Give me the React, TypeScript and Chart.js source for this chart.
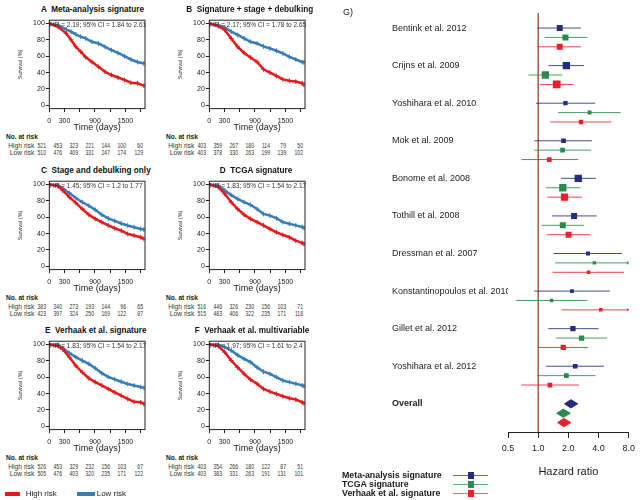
import React, { useEffect, useRef } from "react";
import { Chart, registerables } from "chart.js";
Chart.register(...registerables);

const FONT = "'Liberation Sans', Arial, Helvetica, sans-serif";
const KM_RED = "#e41a1c";
const KM_BLUE = "#377eb8";
const NAVY = "#242b82";
const GREEN = "#2b8b4e";
const FRED = "#e8222b";
const REFLINE = "#a8574f";

// ---------------- Kaplan-Meier data ----------------
const kmXTicks = [0, 300, 600, 900, 1200, 1500, 1800];
const kmXTickLabels = ["0", "300", "", "900", "", "1500", ""];
const kmYTicks = [0, 20, 40, 60, 80, 100];

const timesA = [0, 172, 332, 428, 523, 619, 715, 842, 970, 1098, 1225, 1353, 1481, 1608, 1736, 1863];
const highA = [100, 96, 88, 80, 71.5, 65.5, 59, 53, 47, 41, 37, 34, 31, 27.6, 27, 24];
const lowA = [100, 98, 92.7, 90, 86.6, 84, 81.7, 77.6, 75.6, 71.5, 67.5, 64, 60, 56, 53, 51];

const timesB = [0, 178, 305, 432, 559, 687, 814, 941, 1068, 1195, 1322, 1449, 1577, 1704, 1831, 1863];
const highB = [100, 96.7, 92, 81.7, 71.5, 64, 58.5, 53, 44, 40, 36, 31.7, 30, 29, 27, 25];
const lowB = [100, 98, 95, 90, 86, 81.7, 77.6, 75.6, 72, 69.5, 66.7, 63.4, 59.3, 56, 53, 52.4];

const timesC = [0, 172, 268, 396, 523, 651, 779, 906, 1034, 1161, 1289, 1417, 1544, 1672, 1800, 1863];
const highC = [100, 98, 92.6, 84.5, 77.6, 70, 63, 58, 54, 50, 46.5, 43.7, 39.6, 37.6, 35.5, 33.5];
const lowC = [100, 99, 95, 89.5, 83.5, 78.3, 74, 69, 63, 58.5, 55.5, 52.3, 49.8, 47.8, 45.7, 45];

const timesD = [0, 178, 305, 432, 559, 687, 814, 941, 1068, 1195, 1322, 1449, 1577, 1704, 1831, 1863];
const highD = [100, 96.7, 88.6, 78.4, 70, 63, 58, 54, 50, 45.7, 41.6, 38.4, 35.5, 31.4, 28.6, 27.3];
const lowD = [100, 98.8, 92.6, 87, 82.4, 78.4, 75, 70, 64, 62, 58.8, 54, 52, 50, 48, 47];

const timesE = [0, 172, 268, 396, 523, 651, 779, 906, 1034, 1161, 1289, 1417, 1544, 1672, 1800, 1863];
const highE = [100, 98, 94, 84.5, 74, 66, 58.8, 54, 50, 45.7, 41.6, 37.6, 33.5, 30, 29.4, 27.3];
const lowE = [100, 99.6, 95.5, 89.5, 84.5, 80.4, 76.3, 71, 65, 60.4, 57.4, 54.5, 51.8, 49.8, 48, 47];

const timesF = [0, 178, 305, 432, 559, 687, 814, 941, 1068, 1195, 1322, 1449, 1577, 1704, 1831, 1863];
const highF = [100, 98, 90.6, 80.4, 72, 64, 57, 52, 45.7, 42.4, 39.6, 36.7, 34.3, 32.7, 29.4, 28];
const lowF = [100, 99.6, 96.7, 92.6, 87, 82.4, 78.4, 72, 66.7, 64, 60, 56, 54, 52, 50, 49];

const riskHighA = [521, 453, 323, 221, 144, 100, 60];
const riskLowA = [510, 476, 409, 331, 247, 174, 129];
const riskHighB = [403, 359, 267, 180, 114, 79, 50];
const riskLowB = [403, 378, 330, 263, 199, 139, 102];
const riskHighC = [383, 340, 273, 193, 144, 96, 65];
const riskLowC = [423, 397, 324, 250, 169, 122, 87];
const riskHighD = [516, 446, 326, 230, 156, 103, 71];
const riskLowD = [515, 483, 406, 322, 235, 171, 118];
const riskHighE = [526, 453, 329, 232, 156, 103, 67];
const riskLowE = [505, 476, 403, 320, 235, 171, 122];
const riskHighF = [403, 354, 266, 180, 122, 87, 51];
const riskLowF = [403, 383, 331, 263, 191, 131, 101];

const panelTitles = [
  "A  Meta-analysis signature",
  "B  Signature + stage + debulking",
  "C  Stage and debulking only",
  "D  TCGA signature",
  "E  Verhaak et al. signature",
  "F  Verhaak et al. multivariable",
];
const panelHR = [
  "HR = 2.19; 95% CI = 1.84 to 2.61",
  "HR = 2.17; 95% CI = 1.78 to 2.65",
  "HR = 1.45; 95% CI = 1.2 to 1.77",
  "HR = 1.83; 95% CI = 1.54 to 2.17",
  "HR = 1.83; 95% CI = 1.54 to 2.17",
  "HR = 1.97; 95% CI = 1.61 to 2.4",
];

const panels = [
  { times: timesA, high: highA, low: lowA, rh: riskHighA, rl: riskLowA },
  { times: timesB, high: highB, low: lowB, rh: riskHighB, rl: riskLowB },
  { times: timesC, high: highC, low: lowC, rh: riskHighC, rl: riskLowC },
  { times: timesD, high: highD, low: lowD, rh: riskHighD, rl: riskLowD },
  { times: timesE, high: highE, low: lowE, rh: riskHighE, rl: riskLowE },
  { times: timesF, high: highF, low: lowF, rh: riskHighF, rl: riskLowF },
];

// ---------------- Forest plot data ----------------
const studies = [
  "Bentink et al. 2012",
  "Crijns et al. 2009",
  "Yoshihara et al. 2010",
  "Mok et al. 2009",
  "Bonome et al. 2008",
  "Tothill et al. 2008",
  "Dressman et al. 2007",
  "Konstantinopoulos et al. 2010",
  "Gillet et al. 2012",
  "Yoshihara et al. 2012",
];
const metaHR = [1.64, 1.91, 1.87, 1.79, 2.51, 2.28, 3.14, 2.17, 2.22, 2.34];
const metaLo = [0.99, 1.27, 0.95, 0.915, 1.69, 1.37, 1.42, 0.915, 1.26, 1.2];
const metaHi = [2.67, 2.87, 3.69, 3.43, 3.77, 3.83, 6.85, 5.18, 4.0, 4.54];
const tcgaHR = [1.87, 1.18, 3.25, 1.75, 1.76, 1.76, 3.63, 1.36, 2.71, 1.91];
const tcgaLo = [1.16, 0.8, 1.58, 0.915, 1.2, 1.08, 1.47, 0.6, 1.5, 0.98];
const tcgaHi = [3.09, 1.74, 6.65, 3.38, 2.63, 2.87, 9.5, 3.09, 4.88, 3.72];
const verhHR = [1.64, 1.53, 2.67, 1.29, 1.83, 2.01, 3.18, 4.21, 1.78, 1.31];
const verhLo = [0.99, 1.04, 1.32, 0.68, 1.23, 1.22, 1.39, 1.71, 1.0, 0.68];
const verhHi = [2.67, 2.25, 5.37, 2.51, 2.73, 3.33, 7.2, 10.5, 3.14, 2.55];
// study weights (drawn as square side)
const metaW = [6, 7.3, 4.3, 4.7, 7.3, 6, 4, 3.7, 5.3, 4.7];
const tcgaW = [6, 7.3, 4, 4.7, 7.3, 6, 3.4, 3.5, 5.3, 4.7];
const verhW = [6, 7.8, 4.3, 4.7, 7.3, 6, 3.6, 3.5, 5.3, 4.7];
// overall: [estimate, lower, upper]
const metaOverall = [2.12, 1.83, 2.48];
const tcgaOverall = [1.78, 1.53, 2.09];
const verhOverall = [1.8, 1.56, 2.12];
const hrTicks = [0.5, 1, 2, 4, 8];
const hrTickLabels = ["0.5", "1.0", "2.0", "4.0", "8.0"];

// ---------------- layout ----------------
const colPlotLeft = [49.3, 209.3];
const rowPlotTop = [20, 181, 341];
const PLOT_W = 98.4;
const Y_AXIS_W = 39.3;
const titleCenterX = [92.5, 249.7, 95.9, 256, 95.8, 252];
const riskRight = [-3.3, 12.7, 28.7, 44.2, 60.7, 76.7, 93.7];

const boxPlugin = {
  id: "box",
  afterDatasetsDraw(chart: any) {
    const { ctx, chartArea: a } = chart;
    ctx.save();
    ctx.strokeStyle = "#222";
    ctx.lineWidth = 1;
    ctx.strokeRect(a.left, a.top, a.right - a.left, a.bottom - a.top);
    ctx.restore();
  },
};

function Txt(props: { x: number; y: number; text: string; size: number; bold?: boolean; align?: string; color?: string; sx?: number }) {
  const { x, y, text, size, bold, align, color, sx } = props;
  let tf = align === "center" ? "translateX(-50%)" : align === "right" ? "translateX(-100%)" : "";
  if (sx) tf += ` scaleX(${sx})`;
  return (
    <div
      style={{
        position: "absolute",
        left: x,
        top: y - size * 0.6,
        fontSize: size,
        lineHeight: `${size * 1.2}px`,
        fontWeight: bold ? "bold" : "normal",
        whiteSpace: "pre",
        fontFamily: FONT,
        color: color || "#1a1a1a",
        transform: tf || undefined,
        transformOrigin: align === "right" ? "right center" : align === "center" ? "center center" : "left center",
      }}
    >
      {text}
    </div>
  );
}

function KMChart({ idx }: { idx: number }) {
  const ref = useRef<HTMLCanvasElement>(null);
  const p = panels[idx];
  const left = colPlotLeft[idx % 2];
  const top = rowPlotTop[Math.floor(idx / 2)];
  useEffect(() => {
    const mk = (vals: number[], color: string, label: string, order: number) => ({
      label,
      data: p.times.map((t, i) => ({ x: t, y: vals[i] })),
      showLine: true,
      borderColor: color,
      backgroundColor: color,
      borderWidth: 2.5,
      pointStyle: "cross",
      pointRadius: 2.4,
      pointBorderWidth: 1,
      pointBorderColor: color,
      tension: 0,
      order,
    });
    const chart = new Chart(ref.current!, {
      type: "scatter",
      data: { datasets: [mk(p.high, KM_RED, "High risk", 0), mk(p.low, KM_BLUE, "Low risk", 1)] as any },
      options: {
        animation: false,
        responsive: false,
        events: [],
        layout: { padding: { top: 5, right: 140 - Y_AXIS_W - PLOT_W, left: 0, bottom: 0 } },
        plugins: { legend: { display: false }, tooltip: { enabled: false } },
        scales: {
          x: {
            type: "linear",
            min: 0,
            max: 1885,
            afterBuildTicks: (s: any) => {
              s.ticks = kmXTicks.map((v) => ({ value: v }));
            },
            afterFit: (s: any) => {
              s.height = 113 - 88.6;
            },
            ticks: {
              autoSkip: false,
              maxRotation: 0,
              padding: 4.7,
              color: "#222",
              font: { size: 7, family: FONT },
              callback: (_v: any, i: number) => kmXTickLabels[i],
            },
            grid: { drawOnChartArea: false, tickLength: 3.5, color: "#222" },
            border: { display: false },
            title: { display: true, text: "Time (days)", color: "#1a1a1a", font: { size: 9, family: FONT }, padding: { top: 0, bottom: 0 } },
          },
          y: {
            type: "linear",
            min: -4,
            max: 104,
            afterBuildTicks: (s: any) => {
              s.ticks = kmYTicks.map((v) => ({ value: v }));
            },
            afterFit: (s: any) => {
              s.width = Y_AXIS_W;
            },
            ticks: { autoSkip: false, padding: 1, color: "#222", font: { size: 7, family: FONT } },
            grid: { drawOnChartArea: false, tickLength: 3.5, color: "#222" },
            border: { display: false },
            title: { display: true, text: "Survival (%)", color: "#333", font: { size: 5.5, family: FONT }, padding: { top: 6.7, bottom: 0 } },
          },
        },
      } as any,
      plugins: [boxPlugin],
    });
    return () => chart.destroy();
  }, []);
  return (
    <canvas
      ref={ref}
      width={140}
      height={118}
      style={{ position: "absolute", left: left - Y_AXIS_W, top: top - 5, width: 140, height: 118 }}
    />
  );
}

function KMText({ idx }: { idx: number }) {
  const p = panels[idx];
  const left = colPlotLeft[idx % 2];
  const top = rowPlotTop[Math.floor(idx / 2)];
  return (
    <>
      <Txt x={titleCenterX[idx]} y={top - 9.6} text={panelTitles[idx]} size={8.2} bold align="center" color="#111" />
      <Txt x={left + 0.7} y={top + 4.5} text={panelHR[idx]} size={6.5} color="#333" />
      <Txt x={left - 43.3} y={top + 116.5} text="No. at risk" size={6.6} bold />
      <Txt x={left - 15} y={top + 125.8} text="High risk" size={6.7} align="right" color="#333" />
      <Txt x={left - 15} y={top + 132.7} text="Low risk" size={6.7} align="right" color="#333" />
      {p.rh.map((v, i) => (
        <Txt key={"h" + i} x={left + riskRight[i]} y={top + 125.8} text={String(v)} size={6.7} align="right" color="#333" sx={0.76} />
      ))}
      {p.rl.map((v, i) => (
        <Txt key={"l" + i} x={left + riskRight[i]} y={top + 132.7} text={String(v)} size={6.7} align="right" color="#333" sx={0.76} />
      ))}
    </>
  );
}

const ARROW_CAP = 7.85;
const DIAMOND_H = 0.44;

function sigDatasets(hr: number[], lo: number[], hi: number[], w: number[], ov: number[], color: string, lineColor: string, off: number) {
  const ci: any[] = [];
  const arrows: any[] = [];
  hr.forEach((_, i) => {
    const y = i * 4 + off;
    const up = Math.min(hi[i], ARROW_CAP);
    ci.push({ x: lo[i], y }, { x: up, y }, { x: up, y: null });
    if (hi[i] > ARROW_CAP) arrows.push({ x: ARROW_CAP, y });
  });
  const oy = 40 + off;
  return [
    {
      data: ci,
      showLine: true,
      spanGaps: false,
      borderColor: lineColor,
      borderWidth: 1,
      pointRadius: 0,
      order: 5,
    },
    {
      data: arrows,
      pointStyle: "triangle",
      rotation: 90,
      pointRadius: 2,
      backgroundColor: lineColor,
      borderColor: lineColor,
      borderWidth: 0,
      order: 4,
    },
    {
      data: hr.map((v, i) => ({ x: v, y: i * 4 + off })),
      pointStyle: "rect",
      pointRadius: w.map((s) => s / Math.SQRT2),
      backgroundColor: color,
      borderWidth: 0,
      order: 1,
    },
    {
      data: [
        { x: ov[1], y: oy },
        { x: ov[0], y: oy - DIAMOND_H },
        { x: ov[2], y: oy },
        { x: ov[0], y: oy + DIAMOND_H },
        { x: ov[1], y: oy },
      ],
      showLine: true,
      fill: "shape",
      backgroundColor: color,
      borderColor: color,
      borderWidth: 1,
      pointRadius: 0,
      tension: 0,
      order: 1,
    },
  ];
}

function ForestChart() {
  const ref = useRef<HTMLCanvasElement>(null);
  useEffect(() => {
    const rowLabels = [...studies, "Overall"];
    const datasets = [
      {
        data: [
          { x: hrTicks[1], y: -1.6 },
          { x: hrTicks[1], y: 43 },
        ],
        showLine: true,
        borderColor: REFLINE,
        borderWidth: 1.5,
        pointRadius: 0,
        order: 10,
      },
      ...sigDatasets(metaHR, metaLo, metaHi, metaW, metaOverall, NAVY, "rgba(36,43,130,0.85)", 0),
      ...sigDatasets(tcgaHR, tcgaLo, tcgaHi, tcgaW, tcgaOverall, GREEN, "rgba(43,139,78,0.85)", 1),
      ...sigDatasets(verhHR, verhLo, verhHi, verhW, verhOverall, FRED, "rgba(232,34,43,0.85)", 2),
    ];
    const chart = new Chart(ref.current!, {
      type: "scatter",
      data: { datasets: datasets as any },
      options: {
        animation: false,
        responsive: false,
        events: [],
        layout: { padding: { top: 13, right: 7, left: 17, bottom: 0 } },
        plugins: { legend: { display: false }, tooltip: { enabled: false } },
        scales: {
          x: {
            type: "logarithmic",
            min: 0.5,
            max: 8,
            afterBuildTicks: (s: any) => {
              s.ticks = hrTicks.map((v) => ({ value: v }));
            },
            afterFit: (s: any) => {
              s.height = 68;
            },
            ticks: {
              autoSkip: false,
              maxRotation: 0,
              padding: 5,
              color: "#222",
              font: { size: 9, family: FONT },
              callback: (_v: any, i: number) => hrTickLabels[i],
            },
            grid: { drawOnChartArea: false, tickLength: 6, color: "#222" },
            border: { display: true, color: "#222", width: 1 },
            title: { display: true, text: "Hazard ratio", color: "#1a1a1a", font: { size: 11, family: FONT }, padding: { top: 0, bottom: 21.5 } },
          },
          y: {
            type: "linear",
            reverse: true,
            min: -1.6,
            max: 43,
            afterBuildTicks: (s: any) => {
              s.ticks = rowLabels.map((_, i) => ({ value: i * 4 }));
            },
            afterFit: (s: any) => {
              s.width = 116;
            },
            ticks: {
              autoSkip: false,
              crossAlign: "far",
              padding: 0,
              color: "#222",
              font: (c: any) => ({ size: 9, family: FONT, weight: c.tick && c.tick.value === 40 ? "bold" : "normal" }),
              callback: (_v: any, i: number) => rowLabels[i],
            },
            grid: { display: false },
            border: { display: false },
          },
        },
      } as any,
    });
    return () => chart.destroy();
  }, []);
  return <canvas ref={ref} width={265} height={500} style={{ position: "absolute", left: 375, top: 0, width: 265, height: 500 }} />;
}

const forestLegend = [
  { label: "Meta-analysis signature", color: NAVY, line: "rgba(36,43,130,0.7)" },
  { label: "TCGA signature", color: GREEN, line: "rgba(43,139,78,0.7)" },
  { label: "Verhaak et al. signature", color: FRED, line: "rgba(232,34,43,0.7)" },
];
const forestLegendY = [475.7, 484.5, 493.5];

export default function App() {
  return (
    <div style={{ position: "absolute", left: 0, top: 0, width: 640, height: 500, background: "#fff", overflow: "hidden", fontFamily: FONT }}>
      {panels.map((_, i) => (
        <KMChart key={"c" + i} idx={i} />
      ))}
      <ForestChart />
      {panels.map((_, i) => (
        <KMText key={"t" + i} idx={i} />
      ))}
      <Txt x={343} y={12} text="G)" size={9} />
      {/* KM legend */}
      <div style={{ position: "absolute", left: 5, top: 492, width: 15, height: 4, background: KM_RED }} />
      <Txt x={25.7} y={494} text="High risk" size={8} />
      <div style={{ position: "absolute", left: 77, top: 492, width: 18, height: 4, background: KM_BLUE }} />
      <Txt x={96.7} y={494} text="Low risk" size={8} />
      {/* forest legend */}
      {forestLegend.map((e, i) => (
        <React.Fragment key={"fl" + i}>
          <Txt x={342} y={forestLegendY[i]} text={e.label} size={8.8} bold />
          <div style={{ position: "absolute", left: 453, top: forestLegendY[i] - 0.5, width: 35, height: 1, background: e.line }} />
          <div style={{ position: "absolute", left: 471 - 3.3, top: forestLegendY[i] - 3.3, width: 6.6, height: 6.6, background: e.color }} />
        </React.Fragment>
      ))}
    </div>
  );
}
